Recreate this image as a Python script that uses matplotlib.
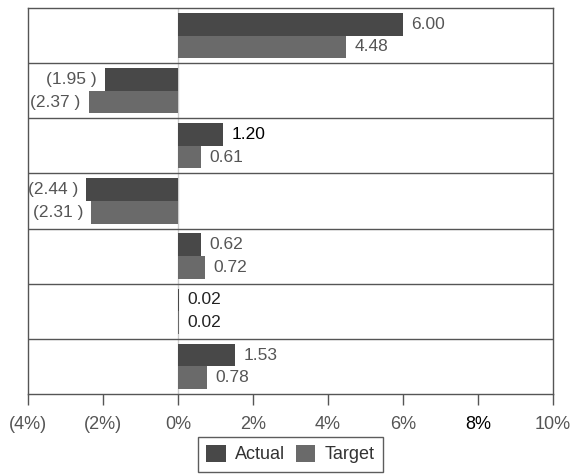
import numpy as np
import matplotlib.pyplot as plt

# values per row, top to bottom
actual = [6.00, -1.95, 1.20, -2.44, 0.62, 0.02, 1.53]
target = [4.48, -2.37, 0.61, -2.31, 0.72, 0.02, 0.78]
series_names = ["Actual", "Target"]
xticks = [-4, -2, 0, 2, 4, 6, 8, 10]
xtick_labels = ["(4%)", "(2%)", "0%", "2%", "4%", "6%", "8%", "10%"]

plt.rcParams['font.family'] = ['Liberation Sans', 'DejaVu Sans']

c_actual = "#484848"
c_target = "#6a6a6a"
txt = "#555555"


def fmt(v):
    if v < 0:
        return f"({abs(v):.2f} )"
    return f"{v:.2f}"


fig = plt.figure(figsize=(5.71, 4.74), dpi=100)
ax = fig.add_axes([0.049, 0.169, 0.919, 0.814])

y = np.arange(len(actual))
h = 0.41
b1 = ax.barh(y - h / 2, actual, height=h, color=c_actual, label=series_names[0])
b2 = ax.barh(y + h / 2, target, height=h, color=c_target, label=series_names[1])

lab1 = ax.bar_label(b1, labels=[fmt(v) for v in actual], padding=6, fontsize=12.5, color=txt)
lab2 = ax.bar_label(b2, labels=[fmt(v) for v in target], padding=6, fontsize=12.5, color=txt)
# a couple of labels come out darker
lab1[2].set_color("black")
lab1[5].set_color("#222222")
lab2[5].set_color("#222222")

ax.set_ylim(len(actual) - 0.5, -0.5)
ax.set_xlim(-4, 10)

# row separators and zero line
for k in range(len(actual) - 1):
    ax.axhline(k + 0.5, color="#555555", lw=1)
ax.axvline(0, color="#cccccc", lw=1, zorder=0)

ax.set_yticks([])
ax.set_xticks(xticks)
ax.set_xticklabels(xtick_labels, fontsize=13, color=txt)
ax.get_xticklabels()[6].set_color("black")
ax.tick_params(axis="x", direction="out", length=8, width=1, color="#555555", pad=8)

for s in ax.spines.values():
    s.set_color("#555555")
    s.set_linewidth(1)

leg = fig.legend(loc="upper center", bbox_to_anchor=(0.508, 0.079), ncol=2,
                 fontsize=13, frameon=True, fancybox=False, handlelength=1.1,
                 handleheight=1.1, handletextpad=0.5, columnspacing=0.6,
                 borderpad=0.45, borderaxespad=0, labelcolor="#333333")
leg.get_frame().set_edgecolor("#333333")
leg.get_frame().set_linewidth(1)

fig.savefig("out.png", dpi=100)
